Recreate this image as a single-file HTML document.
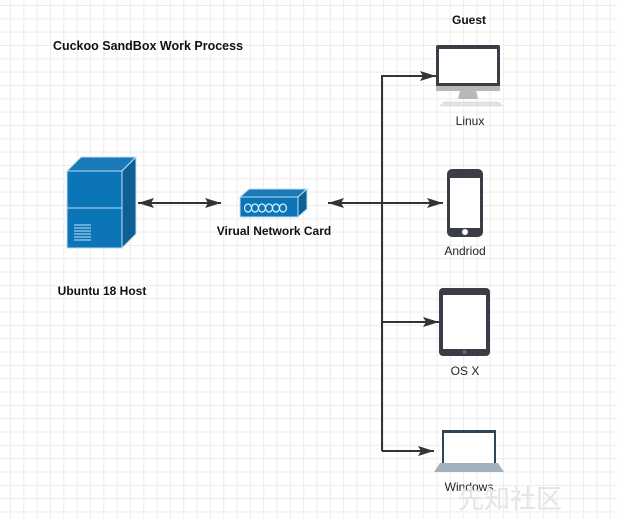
<!DOCTYPE html>
<html><head><style>
body{margin:0;}
.c{width:617px;height:518px;position:relative;background-color:#fff;
background-image:linear-gradient(#ececec 1px,transparent 1px),linear-gradient(90deg,#ececec 1px,transparent 1px);
background-size:13.33px 13.33px;background-position:10px 5px;overflow:hidden;font-family:"Liberation Sans",sans-serif;}
</style></head><body><div class="c">
<svg width="617" height="518" style="position:absolute;left:0;top:0" font-family="Liberation Sans, sans-serif">
<defs><marker id="a" markerWidth="16" markerHeight="10" refX="16" refY="5" orient="auto" markerUnits="userSpaceOnUse"><path d="M0,0 L16,5 L0,10 L3,5 z" fill="#333"/></marker>
<marker id="b" markerWidth="16" markerHeight="10" refX="0" refY="5" orient="auto" markerUnits="userSpaceOnUse"><path d="M16,0 L0,5 L16,10 L13,5 z" fill="#333"/></marker></defs>
<text x="148" y="50" font-size="12.5" font-weight="bold" text-anchor="middle" fill="#111">Cuckoo SandBox Work Process</text>
<text x="469" y="24" font-size="12" font-weight="bold" text-anchor="middle" fill="#111">Guest</text>
<!-- server -->
<polygon points="67,171 81,157 136,157 122,171" fill="#1a7ab8" stroke="#bfe0f5" stroke-width="1"/>
<polygon points="122,171 136,157 136,234 122,248" fill="#0e5f94" stroke="#bfe0f5" stroke-width="1"/>
<rect x="67" y="171" width="55" height="77" fill="#0c75b7" stroke="#bfe0f5" stroke-width="1"/>
<line x1="67" y1="208" x2="122" y2="208" stroke="#bfe0f5"/>
<g stroke="#bfe0f5" stroke-width="1"><line x1="74" y1="225" x2="91" y2="225"/><line x1="74" y1="228" x2="91" y2="228"/><line x1="74" y1="231" x2="91" y2="231"/><line x1="74" y1="234" x2="91" y2="234"/><line x1="74" y1="237" x2="91" y2="237"/><line x1="74" y1="240" x2="91" y2="240"/></g>
<text x="102" y="295" font-size="12" font-weight="bold" text-anchor="middle" fill="#111">Ubuntu 18 Host</text>
<line x1="138" y1="203" x2="221" y2="203" stroke="#333" stroke-width="2" marker-start="url(#b)" marker-end="url(#a)"/>
<!-- NIC -->
<polygon points="240,197 249,189 307,189 298,197" fill="#1a7ab8" stroke="#bfe0f5"/>
<polygon points="298,197 307,189 307,209 298,217" fill="#0e5f94" stroke="#bfe0f5"/>
<rect x="240" y="197" width="58" height="20" fill="#0c75b7" stroke="#bfe0f5"/>
<g fill="none" stroke="#dff0fb" stroke-width="1.2"><ellipse cx="248" cy="208" rx="3.5" ry="4"/><ellipse cx="255" cy="208" rx="3.5" ry="4"/><ellipse cx="262" cy="208" rx="3.5" ry="4"/><ellipse cx="269" cy="208" rx="3.5" ry="4"/><ellipse cx="276" cy="208" rx="3.5" ry="4"/><ellipse cx="283" cy="208" rx="3.5" ry="4"/></g>
<text x="274" y="235" font-size="12" font-weight="bold" text-anchor="middle" fill="#111">Virual Network Card</text>
<!-- connectors -->
<line x1="328" y1="203" x2="443" y2="203" stroke="#333" stroke-width="2" marker-start="url(#b)" marker-end="url(#a)"/>
<polyline points="382,451 382,76 436,76" fill="none" stroke="#333" stroke-width="2" marker-end="url(#a)"/>
<line x1="382" y1="322" x2="439" y2="322" stroke="#333" stroke-width="2" marker-end="url(#a)"/>
<line x1="382" y1="451" x2="434" y2="451" stroke="#333" stroke-width="2" marker-end="url(#a)"/>
<!-- Linux monitor -->
<rect x="436" y="45" width="64" height="46" rx="2" fill="#3a3d45"/>
<rect x="439" y="49" width="58" height="34" fill="#fff"/>
<rect x="436" y="86" width="64" height="5" fill="#b8b8b8"/>
<polygon points="460,91 476,91 478,99 458,99" fill="#b8b8b8"/>
<polygon points="444,102 498,102 503,106 440,106" fill="#e3e3e3" stroke="#d0d0d0" stroke-width="0.5"/>
<text x="470" y="125" font-size="12" text-anchor="middle" fill="#222">Linux</text>
<!-- Phone -->
<rect x="447" y="169" width="36" height="68" rx="5" fill="#3a3d45"/>
<rect x="450" y="178" width="30" height="50" fill="#fff"/>
<circle cx="465" cy="232" r="3" fill="#fff"/>
<text x="465" y="255" font-size="12" text-anchor="middle" fill="#222">Andriod</text>
<!-- Tablet -->
<rect x="439" y="288" width="51" height="68" rx="4" fill="#3a3d45"/>
<rect x="443" y="295" width="43" height="54" fill="#fff"/>
<circle cx="464.5" cy="352" r="2" fill="#666"/>
<text x="465" y="375" font-size="12" text-anchor="middle" fill="#222">OS X</text>
<!-- Laptop -->
<rect x="442" y="430" width="54" height="34" fill="#2f4558"/>
<rect x="444" y="433" width="50" height="30" fill="#fff"/>
<polygon points="440,463 498,463 504,472 434,472" fill="#a3b1bc"/>
<text x="469" y="491" font-size="12" text-anchor="middle" fill="#222">Windows</text>
<text x="510" y="508" font-size="26" text-anchor="middle" fill="#e4e4e4" font-family="Noto Sans CJK SC, sans-serif">先知社区</text>
</svg>
</div></body></html>
